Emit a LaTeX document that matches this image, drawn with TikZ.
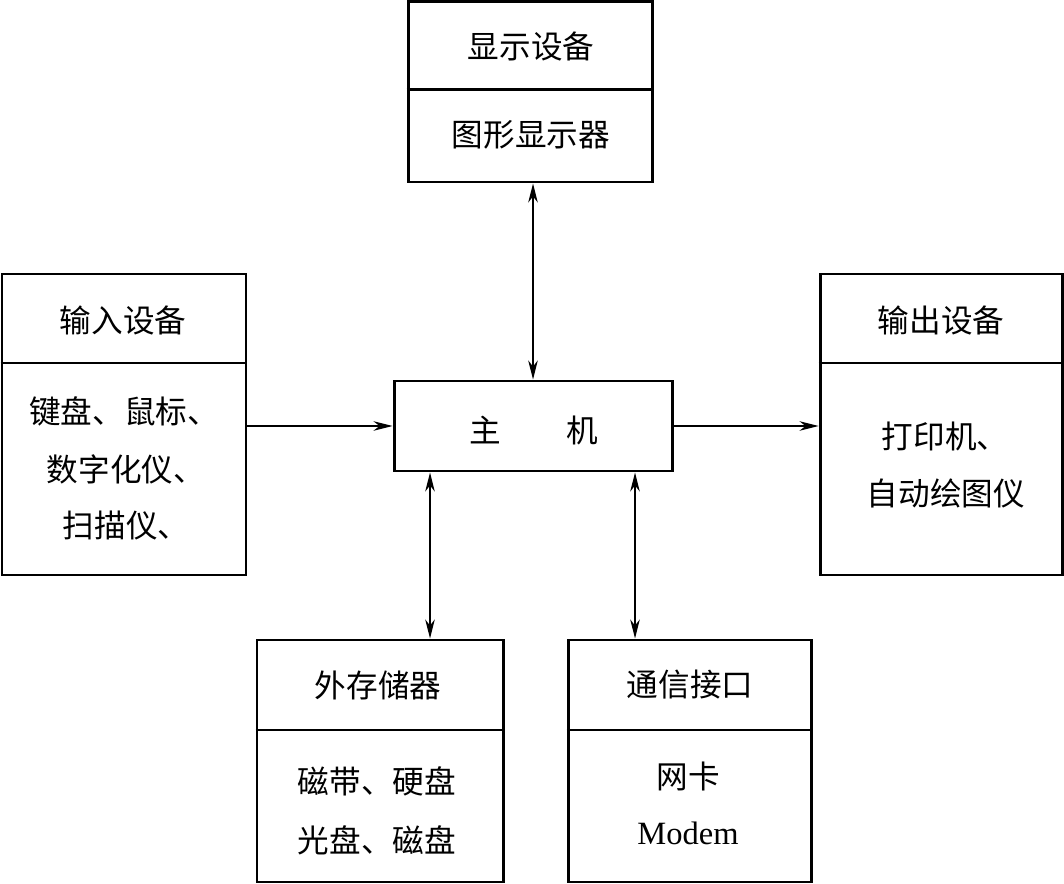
\documentclass[tikz,border=0pt]{standalone}
\usepackage{fontspec}
\setmainfont{Liberation Serif}
\newfontfamily\cjk{Noto Sans CJK SC}
\usetikzlibrary{arrows.meta}
\begin{document}
\begin{tikzpicture}[x=0.02cm,y=-0.02cm,
  box/.style={draw,line width=1.7pt,inner sep=0pt},
  lbl/.style={font=\cjk\fontsize{18}{20}\selectfont,inner sep=0pt,anchor=center},
  mlbl/.style={font=\fontsize{18.5}{20}\selectfont,inner sep=0pt,anchor=center},
  tip/.style={},
  arr/.style={line width=0.8pt,-{Stealth[length=0.38cm,width=0.19cm,inset=0.12cm]}},
  darr/.style={line width=0.8pt,{Stealth[length=0.38cm,width=0.19cm,inset=0.12cm]}-{Stealth[length=0.38cm,width=0.19cm,inset=0.12cm]}}]
\useasboundingbox (0,0) rectangle (1064,884);
% boxes
\node[box,minimum width=244*0.02cm,minimum height=180*0.02cm] (disp) at (530,92) {};
\node[box,minimum width=244*0.02cm,minimum height=301*0.02cm] (inp) at (124,424.5) {};
\node[box,minimum width=278*0.02cm,minimum height=90*0.02cm] (host) at (533,426) {};
\node[box,minimum width=242*0.02cm,minimum height=301*0.02cm] (outp) at (941,424.5) {};
\node[box,minimum width=246*0.02cm,minimum height=242*0.02cm] (stor) at (380,761) {};
\node[box,minimum width=243*0.02cm,minimum height=242*0.02cm] (comm) at (689.5,761) {};
% dividers
\coordinate (dd) at (0,90);
\coordinate (di) at (0,363);
\coordinate (ds) at (0,730);
\draw[line width=1.7pt] (disp.west |- dd) -- (disp.east |- dd);
\draw[line width=1.7pt] (inp.west |- di) -- (inp.east |- di);
\draw[line width=1.7pt] (outp.west |- di) -- (outp.east |- di);
\draw[line width=1.7pt] (stor.west |- ds) -- (stor.east |- ds);
\draw[line width=1.7pt] (comm.west |- ds) -- (comm.east |- ds);
% texts
\node[lbl] (t1) at (531,46) {显示设备};
\node[lbl] (t2) at (531,135) {图形显示器};
\node[lbl] (t3) at (123,320) {输入设备};
\node[lbl] (t4) at (124,411) {键盘、鼠标、};
\node[lbl] (t5) at (126,469) {数字化仪、};
\node[lbl] (t6) at (126,526) {扫描仪、};
\node[lbl] (t7) at (534,430) {主\hspace{1.3cm}机};
\node[lbl] (t8) at (941,320) {输出设备};
\node[lbl] (t9) at (945,436) {打印机、};
\node[lbl] (t10) at (946,493) {自动绘图仪};
\node[lbl] (t11) at (378,685) {外存储器};
\node[lbl] (t12) at (377,781) {磁带、硬盘};
\node[lbl] (t13) at (377,840) {光盘、磁盘};
\node[lbl] (t14) at (690,685) {通信接口};
\node[lbl] (t15) at (688,776) {网卡};
\node[mlbl] (t16) at (688,833) {Modem};
% connectors
\coordinate (xa) at (430,0);
\coordinate (xb) at (635,0);
\draw[darr] (host.north) -- (host.north |- disp.south);
\draw[arr] (inp.east |- host.west) -- (host.west);
\draw[arr] (host.east) -- (host.east -| outp.west);
\draw[darr] (xa |- host.south) -- (xa |- stor.north);
\draw[darr] (xb |- host.south) -- (xb |- comm.north);
\end{tikzpicture}
\end{document}
